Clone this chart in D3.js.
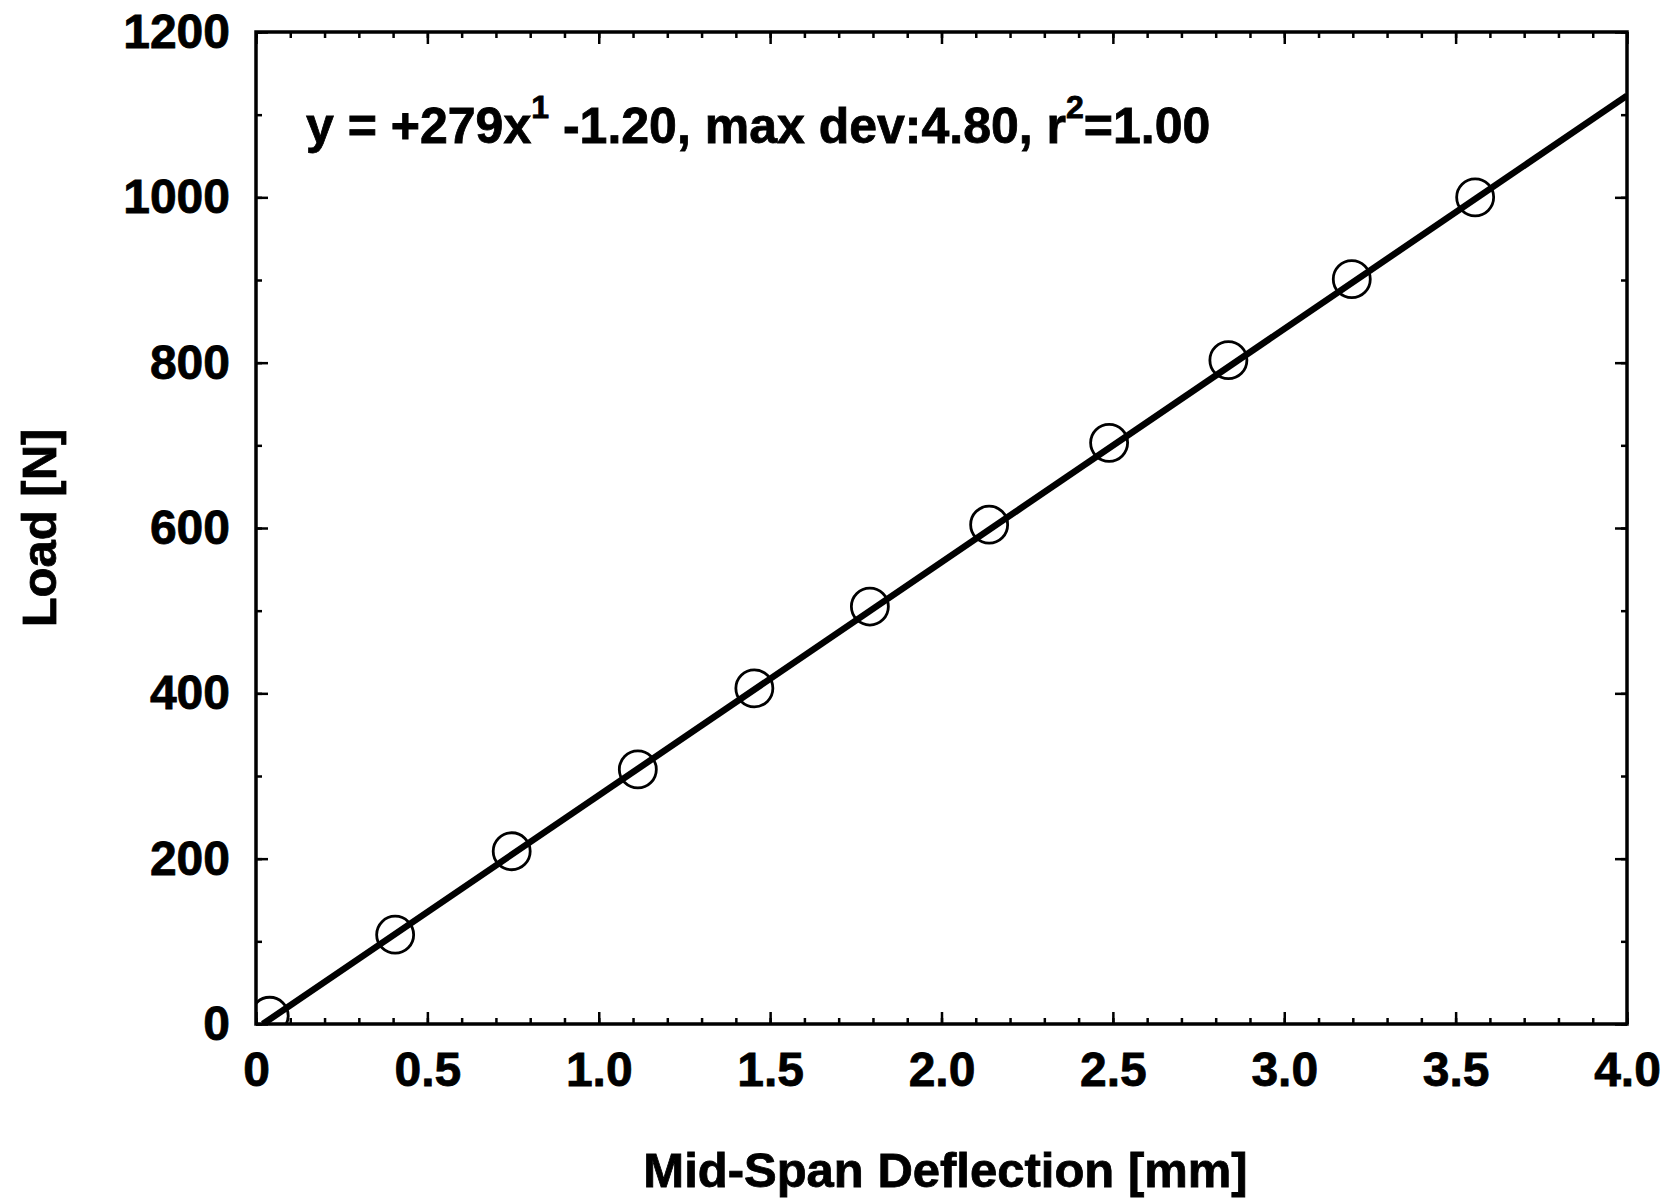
<!DOCTYPE html>
<html>
<head>
<meta charset="utf-8">
<script src="https://cdn.jsdelivr.net/npm/d3@7"></script>
<style>
  html, body { margin: 0; padding: 0; background: #fff; }
  svg text { font-family: "Liberation Sans", Arial, sans-serif; font-weight: bold; fill: #000; stroke: #000; stroke-width: 0.8px; }
</style>
</head>
<body>
<svg id="chart" width="1672" height="1198"></svg>
<script>
// measured points: mid-span deflection [mm] vs load [N]
const deflection = [0.04, 0.406, 0.746, 1.114, 1.454, 1.791, 2.139, 2.489, 2.837, 3.197, 3.557]
const load = [10, 108, 209, 308, 406, 505, 604, 703, 803, 901, 1000]

// fitted line as drawn (two end points)
const fitDeflection = [0.02, 4.0]
const fitLoad = [0, 1123]

const xTicks = [0, 0.5, 1.0, 1.5, 2.0, 2.5, 3.0, 3.5, 4.0]
const xTickLabels = ['0', '0.5', '1.0', '1.5', '2.0', '2.5', '3.0', '3.5', '4.0']
const yTicks = [0, 200, 400, 600, 800, 1000, 1200]
const yTickLabels = ['0', '200', '400', '600', '800', '1000', '1200']

const width = 1672, height = 1198
const plot = { left: 256, right: 1627, top: 32, bottom: 1024 }

const svg = d3.select('#chart')

svg.append('rect').attr('width', width).attr('height', height).attr('fill', '#fff')

const x = d3.scaleLinear().domain([0, 4]).range([plot.left, plot.right])
const y = d3.scaleLinear().domain([0, 1200]).range([plot.bottom, plot.top])

const minorX = d3.range(0, 41).map(i => i / 10)
const minorY = d3.range(0, 13).map(i => i * 100)

// inward ticks on all four sides, minor first then major
function tickAxis(axisFn, scale, values, size, translate, labels) {
    const g = svg.append('g')
        .attr('transform', translate)
        .call(axisFn(scale)
            .tickValues(values)
            .tickSize(size)
            .tickPadding(labels ? 30 : 0)
            .tickFormat((d, i) => labels ? labels[i] : ''))
    g.select('.domain').remove()
    g.selectAll('line').attr('stroke', '#000').attr('stroke-width', 2.5)
    return g
}

tickAxis(d3.axisBottom, x, minorX, -6, `translate(0,${plot.bottom})`)
tickAxis(d3.axisTop, x, minorX, -6, `translate(0,${plot.top})`)
tickAxis(d3.axisLeft, y, minorY, -6, `translate(${plot.left},0)`)
tickAxis(d3.axisRight, y, minorY, -6, `translate(${plot.right},0)`)

const xAxis = tickAxis(d3.axisBottom, x, xTicks, -12, `translate(0,${plot.bottom})`, xTickLabels)
tickAxis(d3.axisTop, x, xTicks, -12, `translate(0,${plot.top})`)
const yAxis = tickAxis(d3.axisLeft, y, yTicks, -12, `translate(${plot.left},0)`, yTickLabels)
tickAxis(d3.axisRight, y, yTicks, -12, `translate(${plot.right},0)`)

xAxis.selectAll('text').attr('font-size', 48).attr('dy', '0.71em').attr('y', 28)
yAxis.selectAll('text').attr('font-size', 48).attr('x', -26)

// frame
svg.append('rect')
    .attr('x', plot.left).attr('y', plot.top)
    .attr('width', plot.right - plot.left).attr('height', plot.bottom - plot.top)
    .attr('fill', 'none').attr('stroke', '#000').attr('stroke-width', 3.5)

svg.append('clipPath').attr('id', 'plotClip')
    .append('rect')
    .attr('x', plot.left).attr('y', plot.top)
    .attr('width', plot.right - plot.left).attr('height', plot.bottom - plot.top)

const inner = svg.append('g').attr('clip-path', 'url(#plotClip)')

const line = d3.line().x(d => x(d[0])).y(d => y(d[1]))
inner.append('path')
    .datum(fitDeflection.map((d, i) => [d, fitLoad[i]]))
    .attr('d', line)
    .attr('fill', 'none').attr('stroke', '#000').attr('stroke-width', 6.5)

inner.selectAll('circle.pt')
    .data(deflection.map((d, i) => [d, load[i]]))
    .join('circle')
    .attr('class', 'pt')
    .attr('cx', d => x(d[0]))
    .attr('cy', d => y(d[1]))
    .attr('r', 18.5)
    .attr('fill', 'none')
    .attr('stroke', '#000')
    .attr('stroke-width', 2.8)

// fit annotation
const note = svg.append('text')
    .attr('x', 306).attr('y', 143)
    .attr('font-size', 50)
note.append('tspan').text('y = +279x')
note.append('tspan').attr('font-size', 32).attr('dy', -25).text('1')
note.append('tspan').attr('dy', 25).text(' -1.20, max dev:4.80, r')
note.append('tspan').attr('font-size', 32).attr('dy', -25).text('2')
note.append('tspan').attr('dy', 25).text('=1.00')

// axis titles
svg.append('text')
    .attr('x', (plot.left + plot.right) / 2 + 4)
    .attr('y', 1187)
    .attr('text-anchor', 'middle')
    .attr('font-size', 49)
    .text('Mid-Span Deflection [mm]')

svg.append('text')
    .attr('transform', `translate(56,${(plot.top + plot.bottom) / 2}) rotate(-90)`)
    .attr('text-anchor', 'middle')
    .attr('font-size', 49)
    .text('Load [N]')
</script>
</body>
</html>
